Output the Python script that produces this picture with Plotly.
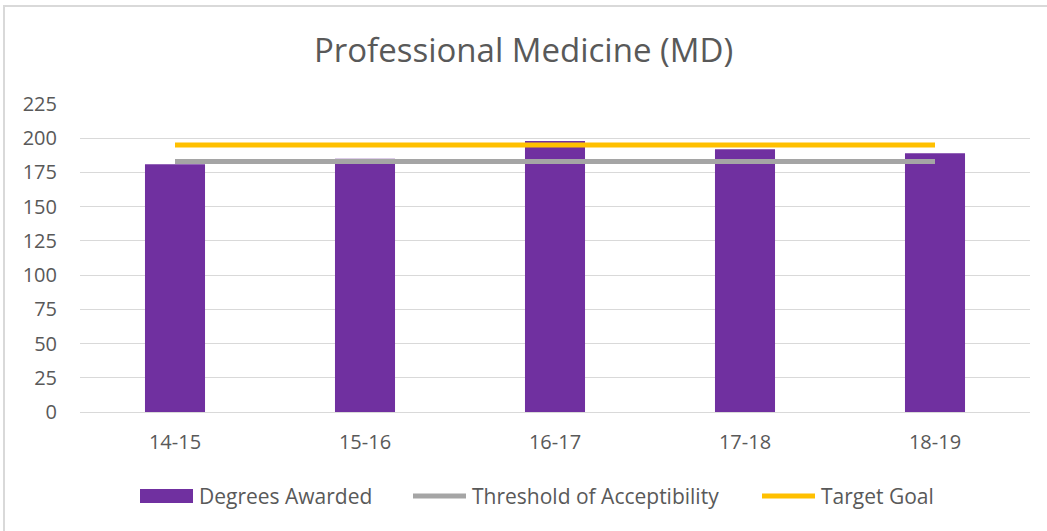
import plotly.graph_objects as go

categories = ["14-15", "15-16", "16-17", "17-18", "18-19"]
degrees_awarded = [181, 185, 198, 192, 189]
threshold = [183, 183, 183, 183, 183]
target_goal = [195, 195, 195, 195, 195]
y_ticks = [0, 25, 50, 75, 100, 125, 150, 175, 200, 225]
series_names = ["Degrees Awarded", "Threshold of Acceptibility", "Target Goal"]
series_colors = ["#7030A0", "#A5A5A5", "#FFC000"]

FONT = "Open Sans"
TXT = "#595959"
W, H = 1047, 531
L, R, T, B = 80, 17, 104, 119
PW, PH = W - L - R, H - T - B


def px(x):
    return (x - L) / PW


def py(y):
    return 1 - (y - T) / PH


fig = go.Figure()
fig.add_trace(go.Bar(x=categories, y=degrees_awarded, name=series_names[0],
                     marker=dict(color=series_colors[0], line=dict(width=0)), width=0.316))
fig.add_trace(go.Scatter(x=categories, y=threshold, name=series_names[1],
                         mode="lines", line=dict(color=series_colors[1], width=5)))
fig.add_trace(go.Scatter(x=categories, y=target_goal, name=series_names[2],
                         mode="lines", line=dict(color=series_colors[2], width=5)))

fig.update_layout(
    width=W, height=H,
    margin=dict(l=L, r=R, t=T, b=B),
    paper_bgcolor="white", plot_bgcolor="white",
    font=dict(family=FONT, color=TXT, size=20),
    title=dict(text="Professional Medicine (MD)", x=0.5, xanchor="center",
               y=1 - 50 / H, yanchor="middle",
               font=dict(family=FONT, size=33, color=TXT)),
    showlegend=False,
)
fig.update_xaxes(showgrid=False, showline=True, linecolor="#D9D9D9", linewidth=1,
                 ticks="", tickfont=dict(size=20, color=TXT), ticklabelstandoff=12)
fig.update_yaxes(range=[0, 225], tickvals=y_ticks, showgrid=True, gridcolor="#D9D9D9",
                 gridwidth=1, zeroline=False, showline=False, ticks="",
                 tickfont=dict(size=20, color=TXT), ticklabelstandoff=22)

# outer chart border
fig.add_shape(type="rect", xref="paper", yref="paper",
              x0=px(4), x1=px(W + 5), y0=py(H + 5), y1=py(6),
              line=dict(color="#D9D9D9", width=2), fillcolor="rgba(0,0,0,0)", layer="below")

# custom legend
LY = 496
fig.add_shape(type="rect", xref="paper", yref="paper",
              x0=px(140), x1=px(193), y0=py(LY + 7), y1=py(LY - 7),
              line=dict(width=0), fillcolor=series_colors[0])
fig.add_shape(type="line", xref="paper", yref="paper",
              x0=px(413), x1=px(466), y0=py(LY), y1=py(LY),
              line=dict(color=series_colors[1], width=5))
fig.add_shape(type="line", xref="paper", yref="paper",
              x0=px(762), x1=px(815), y0=py(LY), y1=py(LY),
              line=dict(color=series_colors[2], width=5))
for name, x0 in zip(series_names, [197, 470, 819]):
    fig.add_annotation(text=name, xref="paper", yref="paper", x=px(x0), y=py(LY),
                       xanchor="left", yanchor="middle", showarrow=False,
                       font=dict(size=21, color=TXT, family=FONT))

fig.write_html("out.html", config={"displayModeBar": False},
               post_script="document.body.style.margin='0';")
